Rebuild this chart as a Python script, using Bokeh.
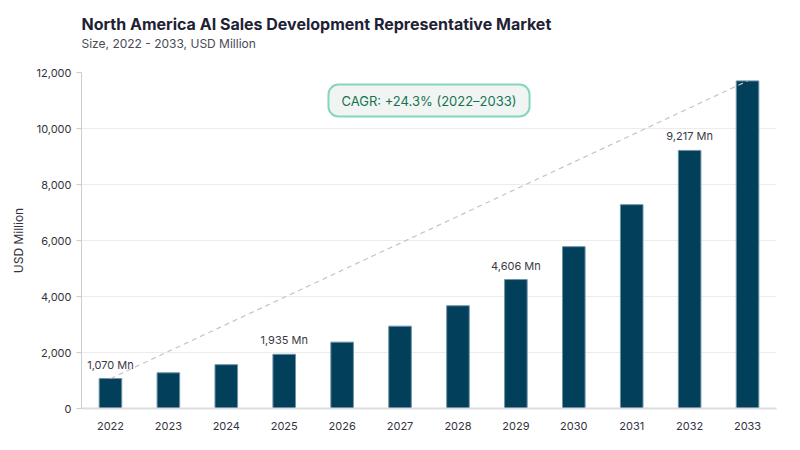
from bokeh.plotting import figure
from bokeh.models import Label, Title, NumeralTickFormatter, FixedTicker, ColumnDataSource
from bokeh.core.properties import value
from bokeh.embed import file_html
from bokeh.resources import INLINE

years = ["2022", "2023", "2024", "2025", "2026", "2027", "2028", "2029", "2030", "2031", "2032", "2033"]
sizes = [1070, 1275, 1565, 1935, 2370, 2940, 3670, 4606, 5780, 7280, 9217, 11700]
labelled = ["2022", "2025", "2029", "2032"]
y_ticks = [0, 2000, 4000, 6000, 8000, 10000, 12000]
title_text = "North America AI Sales Development Representative Market"
subtitle_text = "Size, 2022 - 2033, USD Million"
cagr_text = "CAGR: +24.3% (2022\u20132033)"

FONT = "Inter"

p = figure(x_range=years, y_range=(0, 12000), width=792, height=442,
           output_backend="svg", toolbar_location=None,
           min_border_left=81, min_border_right=16, min_border_top=0, min_border_bottom=34)
p.outline_line_color = None
p.background_fill_color = "white"
p.border_fill_color = "white"

# panels above the frame: first added is nearest the frame
p.add_layout(Title(text=" ", text_font=FONT, text_font_size="10px", standoff=8), "above")
p.add_layout(Title(text=subtitle_text, text_font=FONT, text_font_size="12px", text_font_style="normal",
                   text_color="#4a4a55", align="left", standoff=0), "above")
p.add_layout(Title(text=title_text, text_font=FONT, text_font_size="16px", text_font_style="bold",
                   text_color="#1f2235", align="left", standoff=0), "above")
p.add_layout(Title(text=" ", text_font=FONT, text_font_size="5px", standoff=3), "above")

src = ColumnDataSource(data=dict(x=years, top=sizes))
p.vbar(x="x", top="top", width=0.39, source=src, fill_color="#023f5b",
       line_color="#6f93a6", line_width=1)

# trend line from first to last value
p.line(x=[years[0], years[-1]], y=[sizes[0], sizes[-1]], line_color="#c4c4c4",
       line_width=1.2, line_dash="5 4")

lx = [y for y in years if y in labelled]
ly = [s for y, s in zip(years, sizes) if y in labelled]
lt = [f"{s:,} Mn" for s in ly]
p.text(x=lx, y=ly, text=lt, text_align="center", text_baseline="middle", y_offset=-14,
       text_font=value(FONT), text_font_size="11px", text_color="#3a3a45")

p.add_layout(Label(x=6.0, y=11000, text=cagr_text, text_align="center", text_baseline="middle",
                   text_font=FONT, text_font_size="13px", text_font_style="normal",
                   text_color="#16734f", background_fill_color="#f0f5f4",
                   border_line_color="#86d6bf", border_line_width=2,
                   padding=[13, 8], border_radius=10))

p.yaxis.ticker = FixedTicker(ticks=y_ticks)
p.yaxis.formatter = NumeralTickFormatter(format="0,0")
p.yaxis.axis_label = "USD Million"
p.yaxis.axis_label_text_font = FONT
p.yaxis.axis_label_text_font_size = "12px"
p.yaxis.axis_label_text_font_style = "normal"
p.yaxis.axis_label_text_color = "#333340"
p.yaxis.axis_label_standoff = 8
p.yaxis.major_label_text_font = FONT
p.yaxis.major_label_text_font_size = "11px"
p.yaxis.major_label_text_color = "#333340"
p.yaxis.axis_line_color = "#cccccc"
p.yaxis.major_tick_line_color = "#cccccc"
p.yaxis.major_tick_out = 5
p.yaxis.major_tick_in = 0
p.yaxis.minor_tick_line_color = None
p.yaxis.major_label_standoff = 5

p.xaxis.major_label_text_font = FONT
p.xaxis.major_label_text_font_size = "11px"
p.xaxis.major_label_text_color = "#333340"
p.xaxis.axis_line_color = "#dcdce2"
p.xaxis.axis_line_width = 2
p.xaxis.major_tick_line_color = None
p.xaxis.major_label_standoff = 7

p.xgrid.grid_line_color = None
p.ygrid.grid_line_color = "#ececec"
p.ygrid.ticker = FixedTicker(ticks=y_ticks)
p.x_range.range_padding = 0

open("out.html", "w").write(file_html(p, INLINE))
